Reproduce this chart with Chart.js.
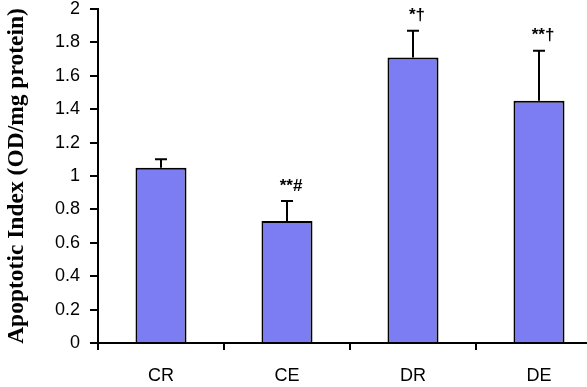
<!DOCTYPE html>
<html>
<head>
<meta charset="utf-8">
<script src="https://cdn.jsdelivr.net/npm/chart.js@4/dist/chart.umd.min.js"></script>
<style>
  html, body { margin: 0; padding: 0; background: #fff; overflow: hidden; }
  #wrap { width: 587px; height: 387px; overflow: hidden; }
</style>
</head>
<body>
<div id="wrap"><canvas id="apoChart" width="602" height="387"></canvas></div>
<script>
// group labels and measured values
const groups = ["CR", "CE", "DR", "DE"];
const apoptoticIndex = [1.05, 0.73, 1.71, 1.45];   // bar heights
const errorUpper = [0.05, 0.12, 0.16, 0.30];        // SD, drawn upward only
const marks = ["", "**#", "*\u2020", "**\u2020"];     // significance marks above bars

// draws upward error bars with a cap, and the marks above them
const errorBarPlugin = {
    id: "errorBars",
    afterDatasetsDraw(chart) {
        const ctx = chart.ctx;
        const meta = chart.getDatasetMeta(0);
        const yScale = chart.scales.y;
        ctx.save();
        ctx.strokeStyle = "#000";
        ctx.lineWidth = 2;
        meta.data.forEach(function (bar, i) {
            const top = yScale.getPixelForValue(apoptoticIndex[i] + errorUpper[i]);
            ctx.beginPath();
            ctx.moveTo(bar.x, bar.y);
            ctx.lineTo(bar.x, top);
            ctx.moveTo(bar.x - 6, top);
            ctx.lineTo(bar.x + 6, top);
            ctx.stroke();
            if (marks[i]) {
                ctx.fillStyle = "#000";
                ctx.font = "bold 17px Arial, 'Liberation Sans'";
                ctx.textAlign = "center";
                ctx.textBaseline = "middle";
                ctx.fillText(marks[i], bar.x + 4, top - 15);
            }
        });
        ctx.restore();
    }
};

new Chart(document.getElementById("apoChart"), {
    type: "bar",
    data: {
        labels: groups,
        datasets: [{
            data: apoptoticIndex,
            backgroundColor: "#7c7cf3",
            borderColor: "#000",
            borderWidth: 2,
            borderSkipped: "bottom",
            categoryPercentage: 0.81,
            barPercentage: 0.5
        }]
    },
    options: {
        responsive: false,
        animation: false,
        layout: { padding: { top: 9, right: 0, left: 0, bottom: 0 } },
        plugins: { legend: { display: false }, tooltip: { enabled: false } },
        scales: {
            x: {
                grid: { display: true, drawOnChartArea: false, offset: true, color: "#000", tickLength: 7, lineWidth: 2 },
                border: { display: true, color: "#000", width: 2 },
                ticks: { color: "#000", font: { family: "Arial, 'Liberation Sans'", size: 18 }, padding: 15 },
                afterFit(scale) { scale.height = 44; }
            },
            y: {
                min: 0,
                max: 2,
                grid: { display: true, drawOnChartArea: false, color: "#000", tickLength: 8, lineWidth: 2 },
                border: { display: true, color: "#000", width: 2 },
                ticks: {
                    stepSize: 0.2,
                    color: "#000",
                    font: { family: "Arial, 'Liberation Sans'", size: 18 },
                    padding: 10,
                    callback: function (value) { return String(Number(value.toFixed(1))); }
                },
                title: {
                    display: true,
                    text: "Apoptotic Index (OD/mg protein)",
                    color: "#000",
                    font: { family: "'Times New Roman', 'Liberation Serif'", size: 23.5, weight: "bold" },
                    padding: { top: 3, bottom: 0 }
                },
                afterFit(scale) {
                    scale.width = 98;
                    scale.paddingTop = 0;
                    scale.paddingBottom = 0;
                }
            }
        }
    },
    plugins: [errorBarPlugin]
});
</script>
</body>
</html>
